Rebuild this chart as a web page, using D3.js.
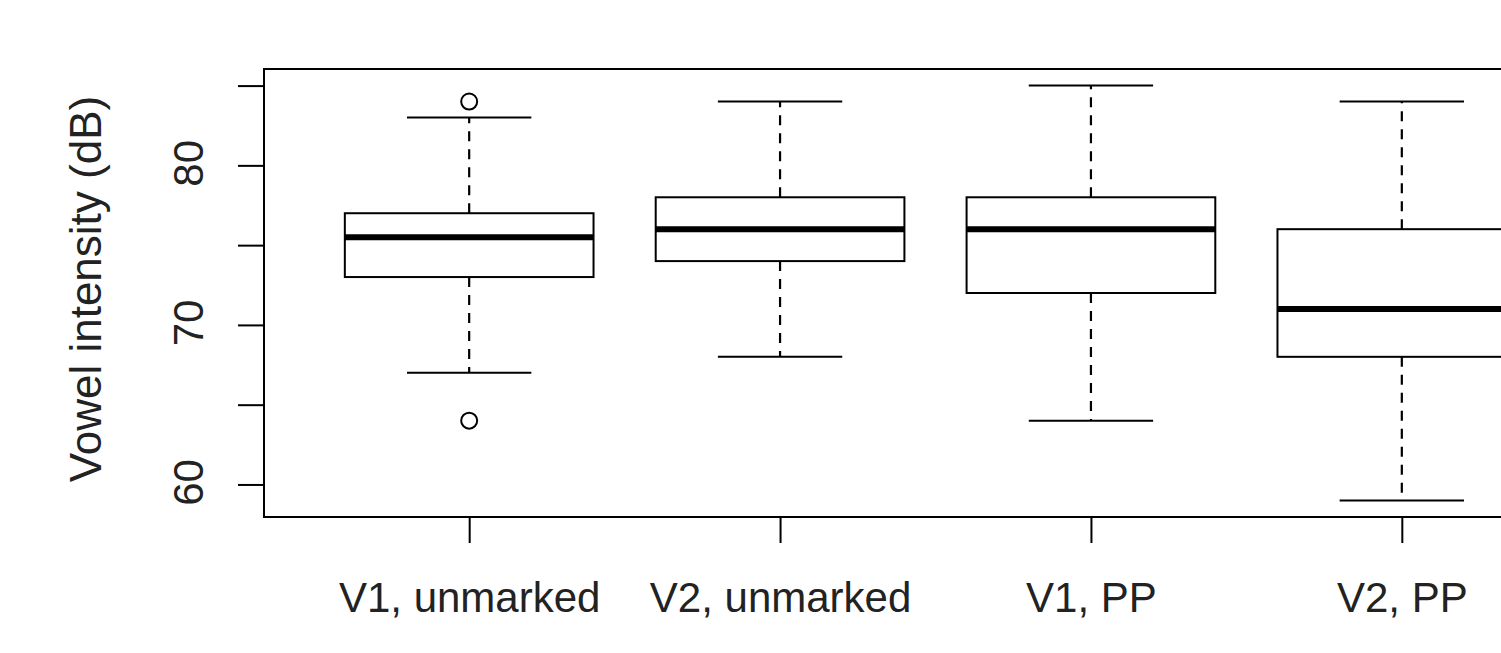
<!DOCTYPE html>
<html>
<head>
<meta charset="utf-8">
<script src="https://cdn.jsdelivr.net/npm/d3@7"></script>
<style>
  html, body { margin: 0; padding: 0; background: #fff; overflow: hidden; }
  text { font-family: "Liberation Sans", Arial, sans-serif; fill: #222; }
</style>
</head>
<body>
<svg id="chart"></svg>
<script>
// values
var categories = ["V1, unmarked", "V2, unmarked", "V1, PP", "V2, PP"];
var lowerWhisker = [67, 68, 64, 59];
var q1 = [73, 74, 72, 68];
var medians = [75.5, 76, 76, 71];
var q3 = [77, 78, 78, 76];
var upperWhisker = [83, 84, 85, 84];
var outliers = [[84, 64], [], [], []];
var yTicks = [60, 65, 70, 75, 80, 85];
var yLabels = [60, 70, 80];

var width = 1501, height = 653;

var svg = d3.select("#chart")
    .attr("width", width)
    .attr("height", height);

// R style: boxes at 1..n, xlim 0.5..n+0.5 padded 4%
var x = d3.scaleLinear()
    .domain([0.34, 4.66])
    .range([264, 1607]);

var y = d3.scaleLinear()
    .domain([57.96, 86.04])
    .range([517, 69]);

var boxHalf = x(1.4) - x(1);
var capHalf = boxHalf / 2;

var data = categories.map(function (c, i) {
    return {
        pos: i + 1,
        name: c,
        lo: lowerWhisker[i],
        q1: q1[i],
        med: medians[i],
        q3: q3[i],
        hi: upperWhisker[i],
        out: outliers[i]
    };
});

var g = svg.selectAll("g.box")
    .data(data)
    .enter().append("g")
    .attr("class", "box");

// dashed whiskers
g.append("line")
    .attr("x1", function (d) { return x(d.pos); })
    .attr("x2", function (d) { return x(d.pos); })
    .attr("y1", function (d) { return y(d.q3); })
    .attr("y2", function (d) { return y(d.hi); })
    .attr("stroke", "#000").attr("stroke-width", 2.2)
    .attr("stroke-dasharray", "10,8");

g.append("line")
    .attr("x1", function (d) { return x(d.pos); })
    .attr("x2", function (d) { return x(d.pos); })
    .attr("y1", function (d) { return y(d.q1); })
    .attr("y2", function (d) { return y(d.lo); })
    .attr("stroke", "#000").attr("stroke-width", 2.2)
    .attr("stroke-dasharray", "10,8");

// whisker caps
["hi", "lo"].forEach(function (k) {
    g.append("line")
        .attr("x1", function (d) { return x(d.pos) - capHalf; })
        .attr("x2", function (d) { return x(d.pos) + capHalf; })
        .attr("y1", function (d) { return y(d[k]); })
        .attr("y2", function (d) { return y(d[k]); })
        .attr("stroke", "#000").attr("stroke-width", 2);
});

g.append("rect")
    .attr("x", function (d) { return x(d.pos) - boxHalf; })
    .attr("width", boxHalf * 2)
    .attr("y", function (d) { return y(d.q3); })
    .attr("height", function (d) { return y(d.q1) - y(d.q3); })
    .attr("fill", "#fff")
    .attr("stroke", "#000").attr("stroke-width", 2);

g.append("line")
    .attr("x1", function (d) { return x(d.pos) - boxHalf; })
    .attr("x2", function (d) { return x(d.pos) + boxHalf; })
    .attr("y1", function (d) { return y(d.med); })
    .attr("y2", function (d) { return y(d.med); })
    .attr("stroke", "#000").attr("stroke-width", 6);

g.selectAll("circle")
    .data(function (d) {
        return d.out.map(function (v) { return {pos: d.pos, v: v}; });
    })
    .enter().append("circle")
    .attr("cx", function (d) { return x(d.pos); })
    .attr("cy", function (d) { return y(d.v); })
    .attr("r", 8)
    .attr("fill", "none")
    .attr("stroke", "#000").attr("stroke-width", 2);

// frame
svg.append("rect")
    .attr("x", x(0.34))
    .attr("y", y(86.04))
    .attr("width", x(4.66) - x(0.34))
    .attr("height", y(57.96) - y(86.04))
    .attr("fill", "none")
    .attr("stroke", "#000").attr("stroke-width", 2);

// y axis
var yAxis = svg.append("g")
    .attr("transform", "translate(" + x(0.34) + ",0)")
    .call(d3.axisLeft(y).tickValues(yTicks).tickSize(26).tickFormat(""));
yAxis.select(".domain").remove();
yAxis.selectAll(".tick line").attr("stroke", "#000").attr("stroke-width", 2);

svg.selectAll("text.ylab")
    .data(yLabels)
    .enter().append("text")
    .attr("class", "ylab")
    .attr("transform", function (d) { return "translate(203," + (y(d) - 2) + ") rotate(-90)"; })
    .attr("text-anchor", "middle")
    .style("font-size", "42px")
    .text(function (d) { return d; });

// x axis
var xAxis = svg.append("g")
    .attr("transform", "translate(0," + y(57.96) + ")")
    .call(d3.axisBottom(x).tickValues([1, 2, 3, 4]).tickSize(26)
        .tickFormat(function (d) { return categories[d - 1]; }));
xAxis.select(".domain").remove();
xAxis.selectAll(".tick line").attr("stroke", "#000").attr("stroke-width", 2);
xAxis.selectAll(".tick text")
    .attr("y", 95)
    .attr("dy", 0)
    .attr("fill", "#222")
    .style("font-size", "42px")
    .style("font-family", "'Liberation Sans', Arial, sans-serif");

svg.append("text")
    .attr("transform", "translate(101,289) rotate(-90)")
    .attr("text-anchor", "middle")
    .style("font-size", "44px")
    .text("Vowel intensity (dB)");
</script>
</body>
</html>
